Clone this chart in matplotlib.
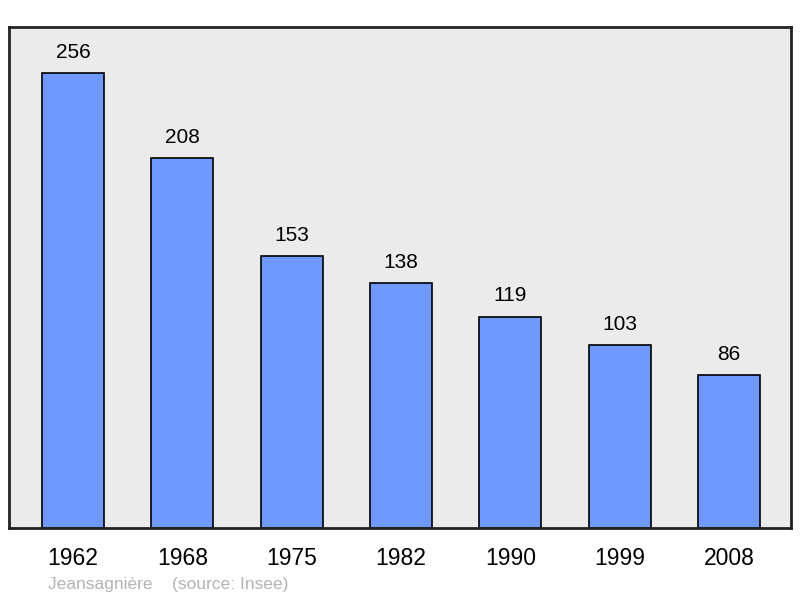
import matplotlib
matplotlib.use("Agg")
from matplotlib import pyplot as plt

plt.rcParams["font.family"] = ["Liberation Sans", "DejaVu Sans"]

years = ["1962", "1968", "1975", "1982", "1990", "1999", "2008"]
population = [256, 208, 153, 138, 119, 103, 86]

fig = plt.figure(figsize=(8, 5.98), dpi=100)
ax = fig.add_axes([9 / 800, 70 / 598, 782 / 800, 501 / 598])
ax.set_facecolor("#ebebeb")

x = range(len(years))
ax.bar(x, population, width=0.567, color="#7099ff", edgecolor="black", linewidth=1.2, zorder=2)

for i, v in enumerate(population):
    ax.annotate(str(v), (i, v), xytext=(0, 8), textcoords="offset points",
                ha="center", va="bottom", fontsize=15)

ax.set_xlim(-0.585, 6.567)
ax.set_ylim(0, 282)
ax.set_xticks(list(x))
ax.set_xticklabels(years, fontsize=16.5)
ax.tick_params(axis="x", length=0, pad=14)
ax.tick_params(axis="y", left=False, labelleft=False)
for s in ax.spines.values():
    s.set_linewidth(2)
    s.set_color("#222222")

fig.text(48 / 800, 1 - 585 / 598, "Jeansagnière    (source: Insee)", color="#b3b3b3",
         fontsize=12.5, ha="left", va="center")

fig.savefig("out.png", dpi=100)
